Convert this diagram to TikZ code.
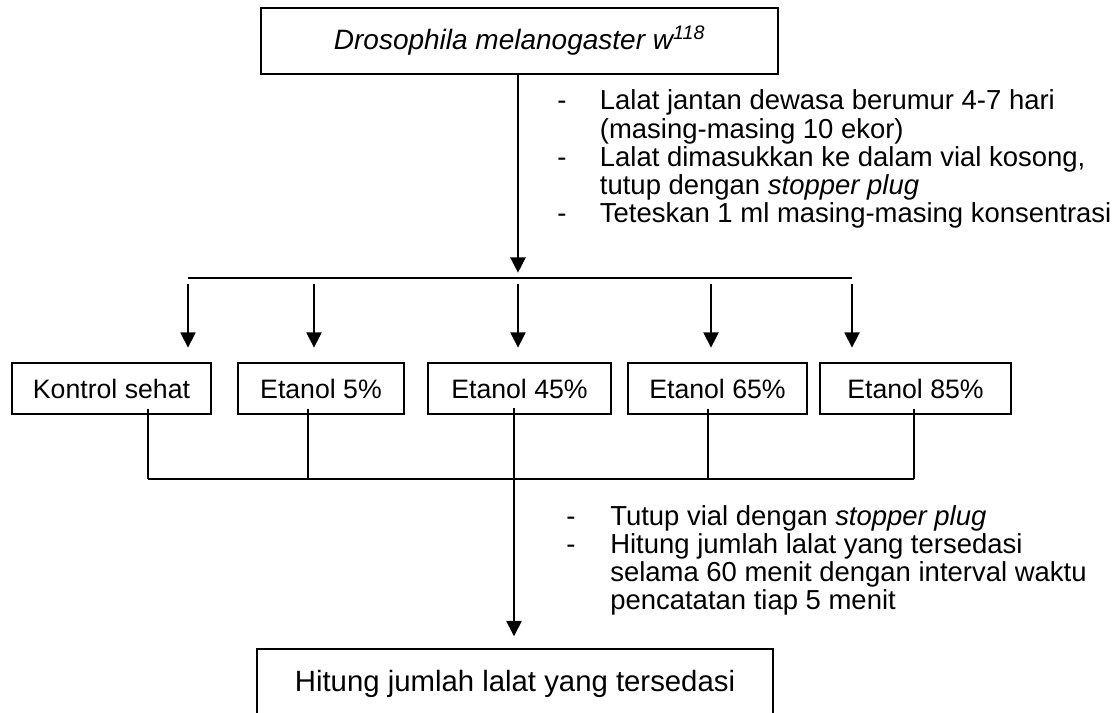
\documentclass[tikz,border=0pt]{standalone}
\usepackage{fontspec}
\setmainfont{Liberation Sans}
\usetikzlibrary{arrows.meta,calc}
\begin{document}
\begin{tikzpicture}[x=0.75pt,y=-0.75pt,
  box/.style={draw,line width=1.1pt,inner sep=0pt,minimum height=38.25pt,font=\fontsize{20}{24}\selectfont},
  ln/.style={line width=1.1pt},
  arr/.style={ln,-{Triangle[length=11.5pt,width=11.5pt]}},
  note/.style={anchor=base west,inner sep=0pt,font=\fontsize{20.6}{20.25}\selectfont}
]
\clip (0,0) rectangle (1116,713);
% boxes
\node[box,minimum width=387.75pt,minimum height=49.5pt,font=\fontsize{21}{25}\selectfont] (top) at (519.5,41) {\textit{Drosophila melanogaster w\textsuperscript{118}}};
\node[box,minimum width=149.25pt] (k) at (111.5,388.5) {Kontrol sehat};
\node[box,minimum width=124.5pt] (e5) at (321,388.5) {Etanol 5\%};
\node[box,minimum width=137.25pt] (e45) at (519.5,388.5) {Etanol 45\%};
\node[box,minimum width=134.25pt] (e65) at (717.5,388.5) {Etanol 65\%};
\node[box,minimum width=143.25pt] (e85) at (915.5,388.5) {Etanol 85\%};
\node[box,minimum width=387pt,minimum height=52.5pt,font=\fontsize{22}{26}\selectfont] (bot) at (515,684) {Hitung jumlah lalat yang tersedasi};
% junction coordinates
\coordinate (a1) at (188,278);
\coordinate (a2) at (314,278);
\coordinate (a3) at (518,278);
\coordinate (a4) at (711,278);
\coordinate (a5) at (852,278);
\coordinate (b1) at (148,479);
\coordinate (b2) at (308,479);
\coordinate (b3) at (514,479);
\coordinate (b4) at (708,479);
\coordinate (b5) at (914,479);
% connectors
\draw[arr,shorten >=4pt] (top.south -| a3) -- (a3);
\draw[ln] (a1) -- (a5);
\foreach \a/\b in {a1/k,a2/e5,a3/e45,a4/e65,a5/e85}
  \draw[arr,shorten <=4.5pt,shorten >=11pt] (\a) -- (\a |- \b.north);
\foreach \c/\n in {b1/k,b2/e5,b4/e65,b5/e85}
  \draw[ln] ($(\n.south -| \c)+(0,-6)$) -- (\c);
\draw[ln] (b1) -- (b5);
\draw[arr,shorten >=9pt] ($(e45.south -| b3)+(0,-7)$) -- (bot.north -| b3);
% notes
\node[note] (n1) at (557,110) {\begin{tabular}[t]{@{}p{32pt}@{}l@{}}
-&Lalat jantan dewasa berumur 4-7 hari\\
&(masing-masing 10 ekor)\\
-&Lalat dimasukkan ke dalam vial kosong,\\
&tutup dengan \textit{stopper plug}\\
-&Teteskan 1 ml masing-masing konsentrasi
\end{tabular}};
\node[note] (n2) at (566,525) {\begin{tabular}[t]{@{}p{33pt}@{}l@{}}
-&Tutup vial dengan \textit{stopper plug}\\
-&Hitung jumlah lalat yang tersedasi\\
&selama 60 menit dengan interval waktu\\
&pencatatan tiap 5 menit
\end{tabular}};
\end{tikzpicture}
\end{document}
